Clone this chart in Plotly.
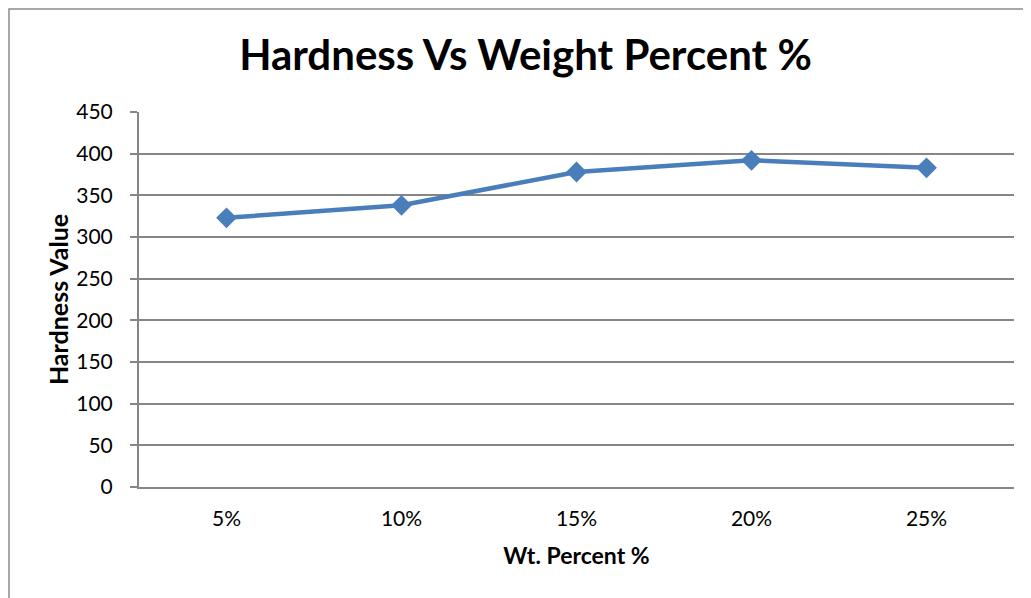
import plotly.graph_objects as go

categories = ["5%", "10%", "15%", "20%", "25%"]
hardness = [323, 338, 378, 392, 383]
y_ticks = [0, 50, 100, 150, 200, 250, 300, 350, 400, 450]

# page body has an 8px margin, so figure coords = screen coords - 8
OFF = 8
W, H = 1031 - OFF, 598 - OFF
L, R, T, B = 139 - OFF, 17, 112 - OFF, 111
pw, ph = W - L - R, H - T - B

def px_x(p):
    return (p - OFF - L) / pw

def px_y(p):
    return (H - B - (p - OFF)) / ph

FONT = "Lato"

fig = go.Figure()
fig.add_trace(go.Scatter(
    x=categories, y=hardness, mode="lines+markers",
    line=dict(color="#4A7EBB", width=4.5),
    marker=dict(symbol="diamond", size=16, color="#4A7EBB"),
    showlegend=False,
))

fig.update_layout(
    width=W, height=H,
    margin=dict(l=L, r=R, t=T, b=B),
    paper_bgcolor="white", plot_bgcolor="white",
    font=dict(family=FONT, color="black"),
    title=dict(text="<b>Hardness Vs Weight Percent %</b>",
               font=dict(family=FONT, size=42, color="black"),
               x=px_x(525.5), xref="paper", xanchor="center",
               y=1 - (55 - OFF) / H, yref="container", yanchor="middle"),
    xaxis=dict(type="category", range=[-0.5, 4.5], showgrid=False,
               showline=True, linecolor="#868686", linewidth=2,
               ticks="", tickfont=dict(size=21, family=FONT),
               ticklabelstandoff=12,
               title=dict(text="<b>Wt. Percent %</b>", font=dict(size=23, family=FONT),
                          standoff=19)),
    yaxis=dict(range=[0, 450], tickvals=y_ticks, showgrid=True,
               gridcolor="#868686", gridwidth=1.5,
               showline=True, linecolor="#868686", linewidth=2,
               ticks="outside", ticklen=7, tickcolor="#868686", tickwidth=1.5,
               tickfont=dict(size=21, family=FONT),
               ticklabelstandoff=13,
               zeroline=False,
               title=dict(text="<b>Hardness Value</b>", font=dict(size=25, family=FONT),
                          standoff=1)),
    shapes=[dict(type="rect", xref="paper", yref="paper",
                 x0=px_x(9), x1=px_x(1060), y0=px_y(640), y1=px_y(9),
                 line=dict(color="#8C8C8C", width=1.5), layer="below")],
)

fig.write_html("out.html")
